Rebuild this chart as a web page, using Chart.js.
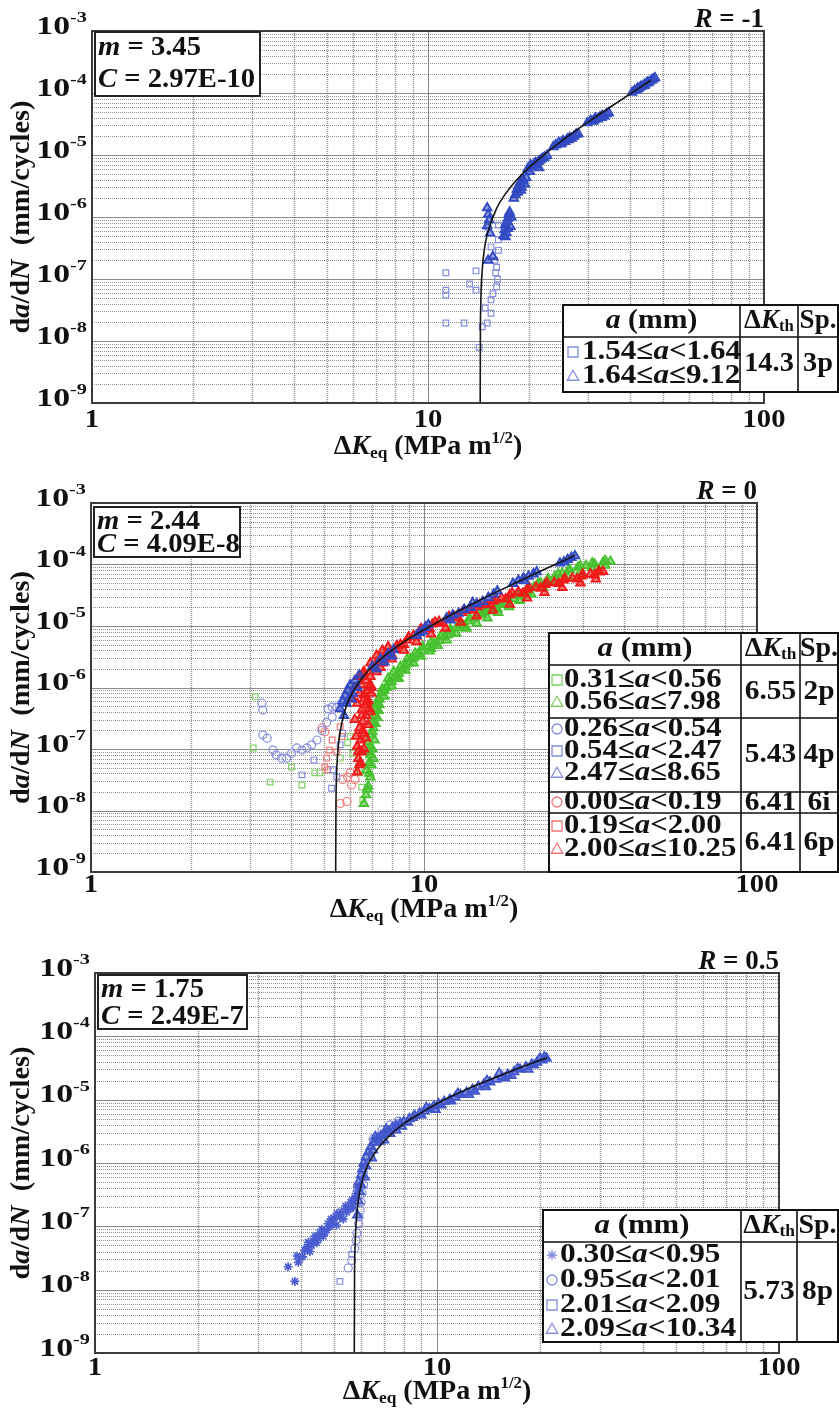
<!DOCTYPE html>
<html>
<head>
<meta charset="utf-8">
<script src="https://cdn.jsdelivr.net/npm/chart.js@4/dist/chart.umd.min.js"></script>
<style>
body { margin: 0; background: #fff; }
#wrap { position: relative; width: 839px; height: 1413px; }
canvas { position: absolute; left: 0; }
</style>
</head>
<body>
<div id="wrap">
<canvas id="c1" width="839" height="470" style="top:0"></canvas>
<canvas id="c2" width="839" height="470" style="top:470px"></canvas>
<canvas id="c3" width="839" height="473" style="top:940px"></canvas>
</div>
<script>
// ---- axes
const xMajor = [1, 10, 100];
const xMinor = [2, 3, 4, 5, 6, 7, 8, 9, 20, 30, 40, 50, 60, 70, 80, 90];
const xTickText = ['1', '10', '100'];
const yDecades = [1e-9, 1e-8, 1e-7, 1e-6, 1e-5, 1e-4, 1e-3];
const yExpText = ['-9', '-8', '-7', '-6', '-5', '-4', '-3'];
const yMinorMult = [2, 3, 4, 5, 6, 7, 8, 9];

// ---- R = -1
const p1Fit = [[14.3, 1e-9], [14.32, 1.4e-8], [14.35, 3.5e-8], [14.4, 6.9e-8], [14.5, 1.4e-7], [14.7, 2.9e-7], [15, 5.2e-7], [16, 1.37e-6], [17, 2.36e-6], [18, 3.5e-6], [20, 6.3e-6], [23, 1.19e-5], [26, 1.98e-5], [30, 3.42e-5], [35, 6.0e-5], [40, 9.7e-5], [46, 1.59e-4]];
const p1Squares = [[11.3, 1.26e-7], [11.3, 6.6e-8], [11.3, 5.5e-8], [11.3, 1.95e-8], [12.8, 1.95e-8], [13.3, 8.3e-8], [13.9, 1.35e-7], [13.9, 6.6e-8], [14.2, 7.9e-9], [14.5, 1.7e-8], [14.8, 3.4e-8], [15.0, 1.95e-8], [15.4, 2.8e-8], [15.4, 4.6e-8], [15.6, 5.8e-8], [15.9, 1.26e-7], [16.0, 7.5e-8], [16.0, 1.55e-7], [16.2, 2.9e-7], [16.2, 4.3e-7], [16.2, 7.4e-7], [15.4, 3.3e-7], [15.1, 6.8e-7], [15.8, 2.0e-7], [16.1, 1.0e-7]];
const p1Triangles = [[40.5, 1.02e-4], [41.2, 1.1e-4], [41.8, 1.12e-4], [42.5, 1.2e-4], [43, 1.27e-4], [43.6, 1.3e-4], [44.2, 1.38e-4], [44.8, 1.45e-4], [45.5, 1.5e-4], [46.2, 1.6e-4], [46.8, 1.68e-4], [47.4, 1.75e-4], [42, 1.18e-4], [44, 1.32e-4], [45, 1.47e-4],
  [29.8, 3.3e-5], [30.5, 3.6e-5], [31, 3.5e-5], [31.5, 3.9e-5], [32, 3.8e-5], [32.5, 4.1e-5], [33, 4.3e-5], [33.5, 4.2e-5], [34, 4.6e-5], [34.5, 4.8e-5], [31.2, 3.7e-5], [32.8, 4.0e-5],
  [23.6, 1.35e-5], [24, 1.45e-5], [24.5, 1.6e-5], [24.8, 1.5e-5], [25.2, 1.7e-5], [25.6, 1.65e-5], [26, 1.8e-5], [26.4, 1.9e-5], [26.8, 1.85e-5], [27.2, 2.0e-5], [27.6, 2.15e-5], [28, 2.2e-5], [25, 1.55e-5], [26.2, 1.75e-5],
  [19.8, 6.0e-6], [20.1, 5.4e-6], [20.4, 6.5e-6], [20.7, 7.2e-6], [21, 6.8e-6], [21.3, 7.8e-6], [21.6, 8.3e-6], [21.9, 8.8e-6], [22.2, 9.2e-6], [22.6, 9.8e-6], [20.9, 7.5e-6], [21.4, 6.2e-6], [20.2, 6.9e-6],
  [18, 2.0e-6], [18.2, 2.3e-6], [18.4, 2.8e-6], [18.6, 3.2e-6], [18.8, 3.6e-6], [19, 3.0e-6], [19.2, 4.0e-6], [19.4, 3.4e-6], [19.6, 4.3e-6], [18.5, 2.5e-6], [19.1, 3.8e-6], [18.9, 2.7e-6],
  [16.8, 5e-7], [16.9, 6.2e-7], [17, 7.5e-7], [17.1, 5.6e-7], [17.2, 8.5e-7], [17.3, 9.5e-7], [17.4, 1.1e-6], [17.5, 1.2e-6], [17.6, 7e-7], [17.7, 1.0e-6], [17.0, 4.8e-7], [17.3, 6.5e-7],
  [15, 1.4e-6], [15.1, 1.1e-6], [15.2, 9e-7], [15.0, 7.2e-7], [15.3, 5.5e-7], [15.1, 2.0e-7], [15.6, 2.3e-7]];

// ---- R = 0
const p2Fit = [[5.43, 1e-9], [5.44, 1.1e-8], [5.46, 3.4e-8], [5.5, 8e-8], [5.6, 1.9e-7], [5.8, 4.4e-7], [6, 7e-7], [6.5, 1.4e-6], [7, 2.18e-6], [8, 4.0e-6], [9, 6.2e-6], [10, 8.7e-6], [12, 1.5e-5], [15, 2.78e-5], [18, 4.47e-5], [22, 7.46e-5], [26, 1.13e-4], [28.5, 1.42e-4]];
const p2GreenSq = [[3.11, 7.1e-7], [3.07, 1.04e-7], [3.45, 2.9e-8], [4.0, 5.1e-8], [4.3, 2.6e-8], [4.7, 4.1e-8], [4.87, 4.1e-8], [5.6, 7.1e-8], [6.0, 1.6e-7], [6.1, 8.5e-8], [6.43, 4.1e-8], [6.5, 2.4e-8], [6.55, 1.5e-8], [5.9, 1.26e-7]];
const p2GreenTri = [[6.6, 1.3e-8], [6.7, 1.8e-8], [6.8, 2.5e-8], [6.9, 3.5e-8], [6.7, 4.5e-8], [6.85, 6e-8], [6.9, 8e-8], [7.0, 1.0e-7], [6.8, 1.3e-7], [6.95, 1.7e-7], [7.05, 2.2e-7], [7.0, 2.8e-7], [7.1, 3.5e-7], [7.15, 4.5e-7], [7.2, 5.5e-7], [7.3, 6.5e-7],
  [6.75, 2.2e-8], [6.85, 4e-8], [6.95, 5.5e-8], [7.05, 7e-8], [6.9, 1.1e-7], [7.1, 1.4e-7], [7.0, 1.9e-7], [7.15, 2.6e-7], [7.25, 3.2e-7], [7.3, 4.2e-7], [7.35, 5.2e-7], [6.8, 9e-8],
  [7.35, 6.5e-7], [7.45, 8.2e-7], [7.6, 9e-7], [7.7, 1.0e-6], [7.85, 1.2e-6], [8.0, 1.25e-6], [8.2, 1.5e-6], [8.4, 1.7e-6], [8.6, 2.0e-6], [8.8, 2.3e-6], [9.0, 2.5e-6], [9.3, 3.0e-6], [9.6, 3.5e-6], [9.9, 4.0e-6], [10.3, 4.6e-6], [10.7, 5.2e-6], [11.1, 5.8e-6], [11.5, 6.8e-6], [12.0, 8.0e-6], [12.5, 9.3e-6], [13.0, 1.05e-5], [13.6, 1.2e-5], [14.2, 1.35e-5], [14.9, 1.55e-5], [15.6, 1.75e-5], [16.3, 1.95e-5], [17.0, 2.2e-5], [17.8, 2.45e-5], [18.6, 2.75e-5], [19.5, 3.1e-5], [20.4, 3.6e-5], [21.4, 4.3e-5], [22.4, 5.0e-5], [23.5, 5.6e-5], [24.7, 6.3e-5], [26, 7.2e-5], [27.4, 8.2e-5], [29, 9.0e-5], [30.7, 9.6e-5], [32.5, 1.02e-4], [34.5, 1.08e-4], [36.3, 1.12e-4],
  [8.3, 1.4e-6], [9.1, 2.9e-6], [10.5, 4.3e-6], [11.8, 7.2e-6], [13.3, 1.0e-5], [15.2, 1.7e-5], [16.6, 1.9e-5],
  [7.5, 9.5e-7], [7.8, 1.4e-6], [8.1, 1.8e-6], [8.5, 2.2e-6], [8.9, 2.9e-6], [9.4, 3.6e-6], [9.9, 4.6e-6], [10.5, 5.4e-6], [11.2, 6.8e-6], [12, 8.9e-6], [12.8, 1.1e-5], [13.7, 1.35e-5], [14.6, 1.6e-5], [15.6, 1.95e-5], [16.7, 2.3e-5], [17.9, 2.8e-5], [19.1, 3.3e-5], [20.5, 4.0e-5], [22, 4.9e-5], [23.6, 5.9e-5], [25.3, 7.0e-5], [27.2, 8.3e-5], [29.5, 9.5e-5], [32, 1.06e-4], [35, 1.16e-4],
  [7.6, 7.2e-7], [8.0, 1.05e-6], [8.4, 1.4e-6], [8.8, 1.9e-6], [9.3, 2.5e-6], [9.8, 3.2e-6], [10.4, 3.9e-6], [11.0, 4.8e-6], [11.7, 5.9e-6], [12.5, 7.6e-6], [13.4, 9.2e-6], [14.4, 1.1e-5], [15.5, 1.35e-5], [16.7, 1.65e-5], [18, 2.05e-5], [19.4, 2.6e-5], [21, 3.3e-5], [22.8, 4.2e-5], [24.8, 5.2e-5], [27, 6.4e-5], [29.5, 7.7e-5], [32, 8.9e-5], [35, 9.7e-5]];
const p2BlueCirc = [[3.26, 5.6e-7], [3.28, 4.3e-7], [3.28, 1.7e-7], [3.38, 1.5e-7], [3.52, 9.6e-8], [3.6, 8e-8], [3.74, 7.1e-8], [3.87, 7.1e-8], [4.0, 8.5e-8], [4.15, 1.04e-7], [4.3, 9.6e-8], [4.45, 1.04e-7], [4.6, 1.17e-7], [4.77, 1.4e-7], [4.94, 2.0e-7], [5.1, 2.7e-7], [5.3, 3.3e-7], [5.47, 4.8e-7], [5.67, 5.6e-7], [5.3, 4.8e-7], [5.15, 4.5e-7]];
const p2BlueSq = [[4.67, 6.6e-8], [4.3, 3.8e-8], [5.33, 4.6e-8], [5.47, 3.5e-8], [5.28, 2.3e-8], [5.6, 1.17e-7], [5.7, 1.8e-7]];
const p2BlueTri = [[5.6, 4.5e-7], [5.7, 6e-7], [5.8, 7.5e-7], [5.9, 9e-7], [6.0, 1.1e-6], [6.1, 8e-7], [6.2, 1.3e-6], [6.3, 1.0e-6], [6.4, 1.6e-6], [5.75, 3.5e-7], [5.85, 5.5e-7], [6.05, 6.5e-7],
  [7.0, 2.2e-6], [7.2, 2.0e-6], [7.4, 2.9e-6], [7.6, 2.6e-6], [7.8, 3.5e-6], [8.0, 3.2e-6], [8.1, 4.1e-6],
  [9.5, 7.0e-6], [9.7, 7.8e-6], [9.9, 8.2e-6], [10.1, 9.5e-6], [10.3, 1.05e-5],
  [11.7, 1.35e-5], [12.2, 1.5e-5], [12.7, 1.6e-5], [13.2, 1.85e-5], [13.8, 2.0e-5], [14.4, 2.3e-5], [15, 2.5e-5], [15.6, 2.9e-5], [16.2, 3.3e-5], [16.6, 3.7e-5], [12, 1.25e-5], [14, 2.4e-5],
  [18.5, 4.9e-5], [19.2, 5.5e-5], [19.9, 6.0e-5], [20.6, 6.4e-5], [21.3, 7.0e-5], [21.8, 7.6e-5], [20, 5.4e-5],
  [25.6, 1.05e-4], [26.3, 1.1e-4], [27, 1.2e-4], [27.7, 1.3e-4], [28.4, 1.38e-4]];
const p2RedCirc = [[4.94, 2.2e-7], [5.04, 1.9e-7], [5.6, 1.3e-8], [5.87, 1.4e-8], [5.7, 3.2e-8], [5.9, 3.5e-8], [6.06, 2.6e-8], [6.2, 3.2e-8], [6.0, 4.1e-8]];
const p2RedSq = [[5.1, 7.1e-8], [5.2, 9.6e-8], [5.04, 5.1e-8], [5.3, 1.4e-7], [5.47, 9e-8], [5.67, 1.6e-7], [5.6, 2.3e-7], [5.14, 4.6e-8]];
const p2RedTri = [[6.3, 4.2e-8], [6.4, 5.5e-8], [6.35, 7e-8], [6.5, 9e-8], [6.3, 1.1e-7], [6.45, 1.4e-7], [6.6, 1.8e-7], [6.4, 2.2e-7], [6.55, 2.8e-7], [6.7, 3.5e-7], [6.5, 4.3e-7], [6.65, 5.2e-7], [6.8, 6.2e-7], [6.6, 7.5e-7], [6.75, 9e-7], [6.9, 1.1e-6], [6.7, 1.3e-6], [6.95, 8e-7], [6.85, 4.5e-7], [6.25, 1.6e-7], [6.2, 3e-7], [6.3, 5.5e-7], [6.4, 8e-7], [6.5, 1.1e-6], [6.1, 6.5e-7], [6.2, 1.0e-6], [6.35, 1.5e-6], [6.55, 1.7e-6],
  [6.45, 6e-8], [6.6, 1.0e-7], [6.7, 1.5e-7], [6.8, 2.5e-7], [6.9, 4e-7], [6.75, 5.8e-7], [6.95, 1.0e-6], [6.5, 3.5e-7], [6.35, 9e-8], [6.55, 2.0e-7], [6.6, 6.5e-7],
  [6.9, 2.5e-6], [7.2, 3.3e-6], [7.5, 4.0e-6], [7.8, 4.6e-6], [6.6, 1.8e-6], [6.4, 1.5e-6],
  [7.0, 2.1e-6], [7.3, 2.6e-6], [7.6, 3.1e-6], [7.9, 3.7e-6], [8.2, 4.3e-6], [8.5, 5.0e-6], [8.9, 5.9e-6], [9.3, 7.0e-6], [9.7, 8.3e-6], [10.1, 9.5e-6], [10.6, 1.07e-5], [11.1, 1.18e-5], [11.7, 1.32e-5], [12.3, 1.45e-5], [13, 1.65e-5], [13.7, 1.85e-5], [14.5, 2.05e-5], [15.3, 2.3e-5], [16.2, 2.55e-5], [17.1, 2.85e-5], [18.1, 3.2e-5], [19.2, 3.6e-5], [20.4, 3.95e-5], [21.7, 4.3e-5], [23.1, 4.7e-5], [24.6, 5.1e-5], [26.2, 5.6e-5], [27.9, 6.0e-5], [29.7, 6.5e-5], [31.6, 7.0e-5], [33.6, 7.5e-5], [34.5, 7.7e-5],
  [7.5, 2.5e-6], [8.0, 3.4e-6], [8.7, 5.0e-6], [9.5, 6.8e-6], [10.4, 9.0e-6], [11.4, 1.1e-5], [12.6, 1.35e-5], [14, 1.8e-5], [15.8, 2.2e-5], [17.6, 2.75e-5], [19.8, 3.4e-5], [22.4, 4.1e-5], [25.4, 4.9e-5], [28.8, 5.8e-5], [32.5, 6.8e-5], [7.2, 1.8e-6], [6.9, 1.5e-6],
  [7.2, 2.6e-6], [7.7, 3.5e-6], [8.3, 4.8e-6], [9.0, 6.6e-6], [9.8, 9.0e-6], [10.8, 1.15e-5], [11.9, 1.42e-5], [13.2, 1.78e-5], [14.7, 2.2e-5], [16.4, 2.75e-5], [18.4, 3.45e-5], [20.7, 4.2e-5], [23.4, 5.0e-5], [26.5, 5.9e-5], [30, 6.9e-5], [33.5, 7.8e-5],
  [7.4, 2.1e-6], [8.0, 2.9e-6], [8.7, 4.0e-6], [9.5, 5.5e-6], [10.5, 7.4e-6], [11.6, 9.2e-6], [12.9, 1.15e-5], [14.4, 1.45e-5], [16.1, 1.8e-5], [18.1, 2.25e-5], [20.4, 2.85e-5], [23, 3.5e-5], [26, 4.2e-5], [29.5, 5.0e-5], [32.8, 5.8e-5]];

// ---- R = 0.5
const p3Fit = [[5.73, 1e-9], [5.74, 1.6e-8], [5.76, 4.9e-8], [5.8, 1.1e-7], [5.85, 1.9e-7], [5.9, 2.8e-7], [6, 4.5e-7], [6.2, 8e-7], [6.5, 1.3e-6], [7, 2.2e-6], [8, 4.2e-6], [9, 6.2e-6], [10, 8.7e-6], [12, 1.4e-5], [15, 2.3e-5], [18, 3.4e-5], [21, 4.6e-5]];
const p3Stars = [[3.67, 2.3e-8], [3.84, 1.35e-8], [3.93, 2.7e-8], [4.05, 3.3e-8], [4.17, 4.7e-8], [4.25, 4.0e-8], [4.34, 6.0e-8], [4.45, 5.5e-8], [4.54, 7.8e-8], [4.65, 7.0e-8], [4.76, 8.7e-8], [4.86, 1.0e-7], [4.97, 1.12e-7], [5.08, 1.05e-7], [5.2, 1.4e-7], [5.32, 1.3e-7], [5.45, 1.67e-7], [5.58, 1.9e-7], [5.7, 2.0e-7], [4.4, 7e-8], [4.6, 9e-8], [4.9, 1.3e-7], [5.1, 1.6e-7], [5.4, 2.1e-7], [5.6, 2.4e-7], [5.75, 2.8e-7], [4.1, 4.2e-8], [4.3, 5.0e-8],
  [4.5, 6.4e-8], [4.7, 8.0e-8], [4.8, 1.1e-7], [5.0, 1.35e-7], [5.25, 1.7e-7], [5.5, 1.85e-7], [5.65, 2.6e-7], [5.8, 3.3e-7], [5.85, 4.2e-7], [3.9, 3.4e-8], [4.2, 5.6e-8]];
const p3Circles = [[5.5, 2.2e-8], [5.63, 2.9e-8], [5.75, 4.5e-8], [5.83, 7.8e-8], [5.9, 1.1e-7], [5.96, 1.8e-7], [6.04, 3.3e-7], [5.92, 1.4e-7], [6.0, 2.4e-7], [5.8, 6e-8], [6.1, 4.5e-7], [6.5, 2.4e-6], [6.9, 3.3e-6], [7.3, 4.0e-6], [7.7, 4.6e-6]];
const p3Squares = [[5.2, 1.35e-8], [5.63, 3.6e-8]];
const p3Triangles = [[5.85, 1.5e-7], [5.9, 2.5e-7], [5.95, 3.5e-7], [5.9, 5e-7], [6.0, 6.5e-7], [6.05, 8e-7], [6.1, 1.0e-6], [6.2, 1.25e-6], [6.3, 1.5e-6], [6.4, 1.8e-6], [6.55, 2.1e-6], [6.7, 2.4e-6], [6.85, 2.7e-6], [7.0, 2.9e-6], [7.2, 3.2e-6], [7.4, 3.6e-6], [7.6, 3.9e-6], [7.8, 4.2e-6], [8.0, 4.5e-6], [8.3, 5.0e-6], [8.6, 5.6e-6], [8.9, 6.1e-6], [9.2, 6.6e-6], [9.5, 7.2e-6], [9.8, 7.9e-6], [10.1, 8.6e-6], [10.5, 9.3e-6], [10.9, 1.0e-5], [11.3, 1.1e-5], [11.7, 1.2e-5], [12.2, 1.3e-5], [12.7, 1.45e-5], [13.2, 1.6e-5], [13.7, 1.75e-5], [14.3, 1.9e-5], [14.9, 2.1e-5], [15.5, 2.3e-5], [16.1, 2.5e-5], [16.8, 2.75e-5], [17.5, 3.0e-5], [18.2, 3.3e-5], [18.9, 3.6e-5], [19.6, 3.9e-5], [20.3, 4.2e-5], [20.9, 4.5e-5],
  [6.2, 9e-7], [6.5, 1.6e-6], [6.8, 2.2e-6], [7.3, 2.9e-6], [7.9, 3.8e-6], [8.5, 5.2e-6], [9.3, 7.5e-6], [10.3, 8.2e-6], [11.5, 1.25e-5], [12.9, 1.35e-5], [14, 2.0e-5], [15.8, 2.2e-5], [17.2, 3.1e-5], [19.2, 3.5e-5], [20.6, 4.7e-5], [6.6, 2.6e-6], [7.1, 3.4e-6],
  [6.0, 4.5e-7], [6.15, 6e-7], [6.45, 1.2e-6], [7.0, 2.3e-6], [7.6, 3.3e-6], [8.2, 4.4e-6], [9.0, 5.7e-6], [9.9, 7.0e-6], [11.0, 9.5e-6], [12.4, 1.2e-5], [13.9, 1.6e-5], [15.2, 2.6e-5], [16.5, 2.4e-5], [18.5, 3.0e-5], [20.0, 4.5e-5]];

// ---- texts
const panelR = ['-1', '0', '0.5'];
const panelM = ['3.45', '2.44', '1.75'];
const panelC = ['2.97E-10', '4.09E-8', '2.49E-7'];
// legend rows: [marker, lower, op, upper]
const p1Rows = [['rect', '1.54', '<', '1.64'], ['triangle', '1.64', '≤', '9.12']];
const p2Rows = [['rect', '0.31', '<', '0.56'], ['triangle', '0.56', '≤', '7.98'], ['circle', '0.26', '<', '0.54'], ['rect', '0.54', '<', '2.47'], ['triangle', '2.47', '≤', '8.65'], ['circle', '0.00', '<', '0.19'], ['rect', '0.19', '<', '2.00'], ['triangle', '2.00', '≤', '10.25']];
const p3Rows = [['star', '0.30', '<', '0.95'], ['circle', '0.95', '<', '2.01'], ['rect', '2.01', '<', '2.09'], ['triangle', '2.09', '<', '10.34']];
const p1Kth = ['14.3'], p1Sp = ['3p'];
const p2Kth = ['6.55', '5.43', '6.41', '6.41'], p2Sp = ['2p', '4p', '6i', '6p'];
const p3Kth = ['5.73'], p3Sp = ['8p'];

const BLUE = '#3149c2', BLUE_L = '#858ddd', GREEN = '#47c22f', GREEN_L = '#7fcf66', RED = '#f01818', RED_L = '#f17878';
const FONT = '"Liberation Serif", "Times New Roman", serif';

function runs(ctx, parts, x, y, size, align, sx) {
  ctx.save();
  sx = sx || 1;
  const fonts = parts.map(p => (p[1] || 'bold') + ' ' + (size * (p[2] || 1)).toFixed(1) + 'px ' + FONT);
  let w = 0;
  const ws = parts.map((p, i) => { ctx.font = fonts[i]; const m = ctx.measureText(p[0]).width; w += m; return m; });
  const x0 = align === 'center' ? x - w * sx / 2 : align === 'right' ? x - w * sx : x;
  ctx.translate(x0, y);
  ctx.scale(sx, 1);
  ctx.textAlign = 'left';
  ctx.textBaseline = 'middle';
  ctx.fillStyle = '#111';
  let cx = 0;
  parts.forEach((p, i) => { ctx.font = fonts[i]; ctx.fillText(p[0], cx, p[3] || 0); cx += ws[i]; });
  ctx.restore();
}

function marker(ctx, style, x, y, r, color) {
  ctx.save();
  ctx.strokeStyle = color;
  ctx.lineWidth = 1.3;
  ctx.beginPath();
  if (style === 'rect') ctx.rect(x - r, y - r, 2 * r, 2 * r);
  else if (style === 'circle') ctx.arc(x, y, r, 0, Math.PI * 2);
  else if (style === 'triangle') { ctx.moveTo(x, y - r * 1.15); ctx.lineTo(x + r * 1.15, y + r * 0.85); ctx.lineTo(x - r * 1.15, y + r * 0.85); ctx.closePath(); }
  else {
    for (let k = 0; k < 4; k++) {
      const a = k * Math.PI / 4;
      ctx.moveTo(x - r * Math.cos(a), y - r * Math.sin(a));
      ctx.lineTo(x + r * Math.cos(a), y + r * Math.sin(a));
    }
  }
  ctx.stroke();
  ctx.restore();
}

function pts(a) { return a.map(p => ({ x: p[0], y: p[1] })); }
function scatterSet(data, style, color, r, bw, fill) {
  return {
    data: pts(data), showLine: false, pointStyle: style, pointRadius: r,
    pointBorderWidth: bw, borderWidth: bw, borderColor: color, pointBorderColor: color,
    backgroundColor: fill || 'rgba(0,0,0,0)', pointBackgroundColor: fill || 'rgba(0,0,0,0)'
  };
}
function fitSet(data) {
  return { data: pts(data), showLine: true, pointRadius: 0, borderColor: '#151515', borderWidth: 1.6, cubicInterpolationMode: 'monotone', fill: false };
}

function drawGrid(chart) {
  const { ctx, chartArea: a, scales } = chart;
  const sx = scales.x, sy = scales.y;
  ctx.save();
  ctx.beginPath();
  ctx.rect(a.left, a.top, a.right - a.left, a.bottom - a.top);
  ctx.clip();
  ctx.setLineDash([1, 1]);
  ctx.strokeStyle = 'rgba(85,85,85,0.65)';
  ctx.lineWidth = 1.4;
  ctx.beginPath();
  xMinor.forEach(v => { const px = Math.round(sx.getPixelForValue(v)) + 0.5; ctx.moveTo(px, a.top); ctx.lineTo(px, a.bottom); });
  ctx.stroke();
  ctx.lineWidth = 1;
  ctx.beginPath();
  yDecades.slice(0, -1).forEach(d => yMinorMult.forEach(k => {
    const py = Math.round(sy.getPixelForValue(k * d)) + 0.5; ctx.moveTo(a.left, py); ctx.lineTo(a.right, py);
  }));
  ctx.stroke();
  ctx.setLineDash([]);
  ctx.strokeStyle = 'rgba(90,90,90,0.7)';
  ctx.beginPath();
  xMajor.forEach(v => { const px = Math.round(sx.getPixelForValue(v)) + 0.5; ctx.moveTo(px, a.top); ctx.lineTo(px, a.bottom); });
  yDecades.forEach(v => { const py = Math.round(sy.getPixelForValue(v)) + 0.5; ctx.moveTo(a.left, py); ctx.lineTo(a.right, py); });
  ctx.stroke();
  ctx.restore();
}

function rangeParts(r) {
  return [[r[1] + '≤'], ['a', 'italic bold'], [r[2] + r[3]]];
}

function drawTable(ctx, t) {
  const [c0, c1, c2, c3] = t.cols;
  ctx.save();
  ctx.fillStyle = '#fff';
  ctx.fillRect(c0, t.top, c3 - c0, t.bottom - t.top);
  ctx.strokeStyle = '#111';
  ctx.lineWidth = 2;
  ctx.strokeRect(c0, t.top, c3 - c0, t.bottom - t.top);
  ctx.lineWidth = 1.6;
  ctx.beginPath();
  ctx.moveTo(c1, t.top); ctx.lineTo(c1, t.bottom);
  ctx.moveTo(c2, t.top); ctx.lineTo(c2, t.bottom);
  ctx.moveTo(c0, t.head); ctx.lineTo(c3, t.head);
  t.groups.slice(0, -1).forEach(g => { ctx.moveTo(c0, g.bottom); ctx.lineTo(c3, g.bottom); });
  ctx.stroke();
  ctx.restore();
  const hy = (t.top + t.head) / 2;
  runs(ctx, [['a', 'italic bold'], [' (mm)']], (c0 + c1) / 2, hy, t.size, 'center', 1.1);
  runs(ctx, [['Δ'], ['K', 'italic bold'], ['th', 'bold', 0.62, 6]], (c1 + c2) / 2, hy, t.size, 'center', 1.0);
  runs(ctx, [['Sp.']], (c2 + c3) / 2, hy, t.size, 'center', 1.0);
  let prev = t.head;
  t.groups.forEach((g, gi) => {
    g.rows.forEach((y, ri) => {
      const r = t.rows[g.first + ri];
      marker(ctx, r[0], c0 + t.mx, y, 5, g.colors[ri]);
      runs(ctx, rangeParts(r), c0 + t.tx, y, t.size, 'left', t.sx);
    });
    const my = (prev + g.bottom) / 2;
    runs(ctx, [[t.kth[gi]]], (c1 + c2) / 2, my, t.size, 'center', 1.05);
    runs(ctx, [[t.sp[gi]]], (c2 + c3) / 2, my, t.size, 'center', 1.05);
    prev = g.bottom;
  });
}

function panelPlugin(p) {
  return {
    id: 'panel',
    beforeDatasetsDraw(chart) { drawGrid(chart); },
    afterDatasetsDraw(chart) {
      const { ctx, chartArea: a, scales } = chart;
      ctx.save();
      ctx.strokeStyle = '#3c3c3c';
      ctx.lineWidth = 2;
      ctx.strokeRect(a.left, a.top, a.right - a.left, a.bottom - a.top);
      ctx.restore();
      // y tick labels
      yDecades.forEach((v, i) => {
        const py = scales.y.getPixelForValue(v);
        runs(ctx, [['10'], [yExpText[i], 'bold', 0.6, -9]], a.left - 5, py - 4, 26, 'right', 1.3);
      });
      // x tick labels
      xMajor.forEach((v, i) => {
        runs(ctx, [[xTickText[i]]], scales.x.getPixelForValue(v), p.xTickY, 26, 'center', 1.1);
      });
      // axis titles
      runs(ctx, [['Δ'], ['K', 'italic bold'], ['eq', 'bold', 0.62, 7], [' (MPa m'], ['1/2', 'bold', 0.6, -8], [')']],
        (a.left + a.right) / 2, p.xTitleY, 28, 'center', 1.0);
      ctx.save();
      ctx.translate(22, (a.top + a.bottom) / 2);
      ctx.rotate(-Math.PI / 2);
      runs(ctx, [['d'], ['a', 'italic bold'], ['/d'], ['N', 'italic bold'], ['  (mm/cycles)']], 0, 0, 27, 'center', 1.05);
      ctx.restore();
      // R label
      runs(ctx, [['R', 'italic bold'], [' = ' + panelR[p.idx]]], a.right, p.rY, 27, 'right', 1.0);
      // equation box
      const b = p.box;
      ctx.save();
      ctx.fillStyle = '#fff';
      ctx.fillRect(b[0], b[1], b[2] - b[0], b[3] - b[1]);
      ctx.strokeStyle = '#222';
      ctx.lineWidth = 2;
      ctx.strokeRect(b[0], b[1], b[2] - b[0], b[3] - b[1]);
      ctx.restore();
      runs(ctx, [['m', 'italic bold'], [' = ' + panelM[p.idx]]], b[0] + 3, p.eqY[0], 27, 'left', 1.06);
      runs(ctx, [['C', 'italic bold'], [' = ' + panelC[p.idx]]], b[0] + 3, p.eqY[1], 27, 'left', 1.06);
      drawTable(ctx, p.table);
    }
  };
}

function makeChart(id, datasets, pad, p) {
  return new Chart(document.getElementById(id), {
    type: 'scatter',
    data: { datasets: datasets },
    options: {
      responsive: false, animation: false, devicePixelRatio: 1,
      layout: { padding: pad },
      plugins: { legend: { display: false }, tooltip: { enabled: false } },
      scales: {
        x: { type: 'logarithmic', min: 1, max: 100, display: false },
        y: { type: 'logarithmic', min: 1e-9, max: 1e-3, display: false }
      }
    },
    plugins: [panelPlugin(p)]
  });
}

makeChart('c1', [
  fitSet(p1Fit),
  scatterSet(p1Triangles, 'triangle', BLUE, 5, 1.8, 'rgba(49,73,194,0.55)'),
  scatterSet(p1Squares, 'rect', BLUE_L, 4, 1.2)
], { left: 92, top: 31, right: 75, bottom: 67 }, {
  idx: 0, xTickY: 420, xTitleY: 447, rY: 20, box: [95, 32, 260, 96], eqY: [48, 80],
  table: { cols: [563, 740, 798, 838], top: 305, head: 337, bottom: 392, size: 27, sx: 1.15, mx: 10, tx: 19, rows: p1Rows, kth: p1Kth, sp: p1Sp,
    groups: [{ first: 0, rows: [352, 376], bottom: 392, colors: [BLUE_L, BLUE_L] }] }
});

makeChart('c2', [
  fitSet(p2Fit),
  scatterSet(p2BlueTri, 'triangle', BLUE, 5, 1.8, 'rgba(49,73,194,0.6)'),
  scatterSet(p2RedTri, 'triangle', RED, 5, 1.8, 'rgba(240,24,24,0.6)'),
  scatterSet(p2GreenTri, 'triangle', GREEN, 5, 1.8, 'rgba(71,194,47,0.6)'),
  scatterSet(p2BlueCirc, 'circle', BLUE_L, 4, 1.2),
  scatterSet(p2BlueSq, 'rect', BLUE_L, 4, 1.2),
  scatterSet(p2RedCirc, 'circle', RED_L, 4, 1.2),
  scatterSet(p2RedSq, 'rect', RED_L, 4, 1.2),
  scatterSet(p2GreenSq, 'rect', GREEN_L, 4, 1.2)
], { left: 91, top: 33, right: 82, bottom: 68 }, {
  idx: 1, xTickY: 415, xTitleY: 440, rY: 22, box: [94, 37, 240, 87], eqY: [52, 75],
  table: { cols: [549, 741, 800, 838], top: 163, head: 195, bottom: 402, size: 28, sx: 1.1, mx: 8, tx: 15, rows: p2Rows, kth: p2Kth, sp: p2Sp,
    groups: [
      { first: 0, rows: [210, 232], bottom: 248, colors: [GREEN_L, GREEN_L] },
      { first: 2, rows: [259, 281, 303], bottom: 322, colors: [BLUE_L, BLUE_L, BLUE_L] },
      { first: 5, rows: [332], bottom: 343, colors: [RED_L] },
      { first: 6, rows: [356, 379], bottom: 402, colors: [RED_L, RED_L] }
    ] }
});

makeChart('c3', [
  fitSet(p3Fit),
  scatterSet(p3Triangles, 'triangle', '#4256cc', 5, 1.8, 'rgba(66,86,204,0.55)'),
  scatterSet(p3Stars, 'star', '#4a5cd0', 4.5, 1.6),
  scatterSet(p3Circles, 'circle', BLUE_L, 4, 1.2),
  scatterSet(p3Squares, 'rect', BLUE_L, 4, 1.2)
], { left: 95, top: 33, right: 60, bottom: 60 }, {
  idx: 2, xTickY: 428, xTitleY: 452, rY: 22, box: [98, 35, 247, 89], eqY: [50, 77],
  table: { cols: [543, 741, 797, 838], top: 270, head: 302, bottom: 402, size: 28, sx: 1.12, mx: 9, tx: 17, rows: p3Rows, kth: p3Kth, sp: p3Sp,
    groups: [{ first: 0, rows: [315, 340, 365, 389], bottom: 402, colors: [BLUE_L, BLUE_L, BLUE_L, BLUE_L] }] }
});
</script>
</body>
</html>
